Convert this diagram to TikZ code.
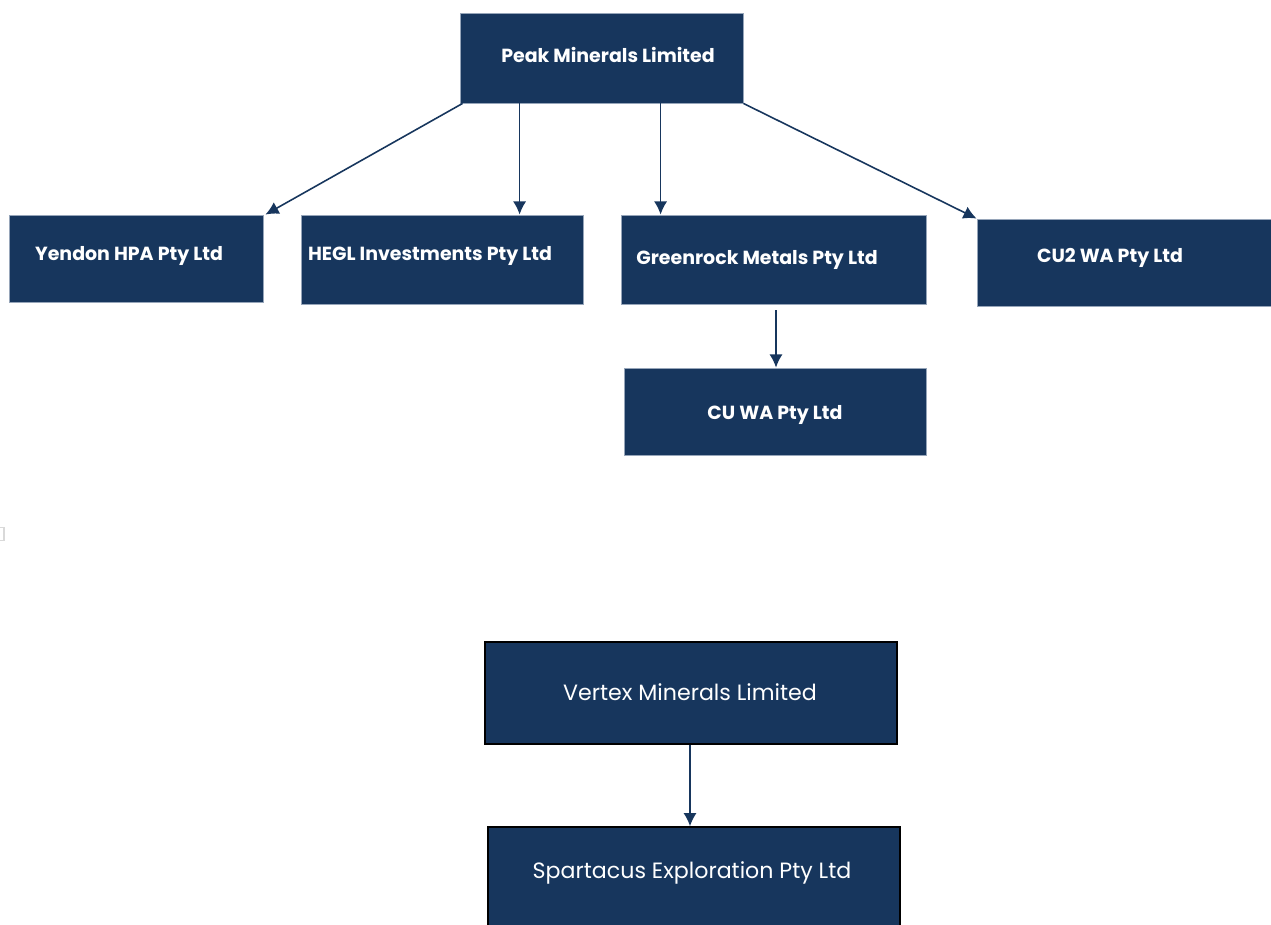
\documentclass[tikz,border=0pt]{standalone}
\usepackage{fontspec}
\setmainfont{Poppins}
\usetikzlibrary{arrows.meta,calc}
\definecolor{navy}{RGB}{23,54,93}
\definecolor{edgegray}{RGB}{150,165,185}
\tikzset{
  box/.style={rectangle, fill=navy, draw=edgegray, line width=0.5pt, inner sep=0pt},
  vbox/.style={rectangle, fill=navy, draw=black, line width=0.9pt, inner sep=0pt},
  btxt/.style={text=white, font=\fontsize{10.8}{13}\selectfont\bfseries, inner sep=0pt},
  ntxt/.style={text=white, font=\fontsize{12.6}{15}\selectfont, inner sep=0pt},
  arr/.style={draw=navy, line width=0.9pt, -{Latex[length=7.5pt,width=7.5pt]}}
}
\begin{document}
\begin{tikzpicture}[x=0.02cm,y=-0.02cm]
\useasboundingbox (0,0) rectangle (1271,925);
% boxes
\node[box, minimum width=5.66cm, minimum height=1.8cm] (peak) at (601.5,58) {};
\node[box, minimum width=5.08cm, minimum height=1.74cm] (yendon) at (136,258.5) {};
\node[box, minimum width=5.64cm, minimum height=1.78cm] (hegl) at (442,259.5) {};
\node[box, minimum width=6.10cm, minimum height=1.78cm] (green) at (773.5,259.5) {};
\node[box, minimum width=5.88cm, minimum height=1.74cm] (cutwo) at (1124,262.5) {};
\node[box, minimum width=6.04cm, minimum height=1.74cm] (cuwa) at (775,411.5) {};
\node[vbox, minimum width=8.24cm, minimum height=2.04cm] (vertex) at (691,693) {};
\node[vbox, minimum width=8.24cm, minimum height=2.04cm] (spart) at (694,878) {};
% labels
\node[btxt] (tpeak) at (608,55) {Peak Minerals Limited};
\node[btxt] (tyendon) at (129,255.5) {Yendon HPA Pty Ltd};
\node[btxt] (thegl) at (430,255.5) {HEGL Investments Pty Ltd};
\node[btxt] (tgreen) at (757,259.5) {Greenrock Metals Pty Ltd};
\node[btxt] (tcutwo) at (1110,257.5) {CU2 WA Pty Ltd};
\node[btxt] (tcuwa) at (775,415) {CU WA Pty Ltd};
\node[ntxt] (tvertex) at (690,692) {Vertex Minerals Limited};
\node[ntxt] (tspart) at (692,873) {Spartacus Exploration Pty Ltd};
% small artifact
\node[draw=black!15, line width=0.6pt, minimum width=0.12cm, minimum height=0.26cm, inner sep=0pt] (mark) at (1,534) {};
% connector start points
\coordinate (s1) at ($(peak.south west)+(3,0)$);
\coordinate (s2) at ($(peak.south west)+(60,0)$);
\coordinate (s3) at ($(peak.south west)+(201,0)$);
\coordinate (s5) at ($(green.south)+(2.5,6)$);
\coordinate (s6) at ($(vertex.south)+(-1,0)$);
\coordinate (e1) at ($(yendon.north east)+(2,0)$);
% connectors
\draw[arr] (s1) -- (e1);
\draw[arr] (s2) -- (s2 |- hegl.north);
\draw[arr] (s3) -- (s3 |- green.north);
\draw[arr] (peak.south east) -- (cutwo.north west);
\draw[arr] (s5) -- (s5 |- cuwa.north);
\draw[arr] (s6) -- (s6 |- spart.north);
\end{tikzpicture}
\end{document}
